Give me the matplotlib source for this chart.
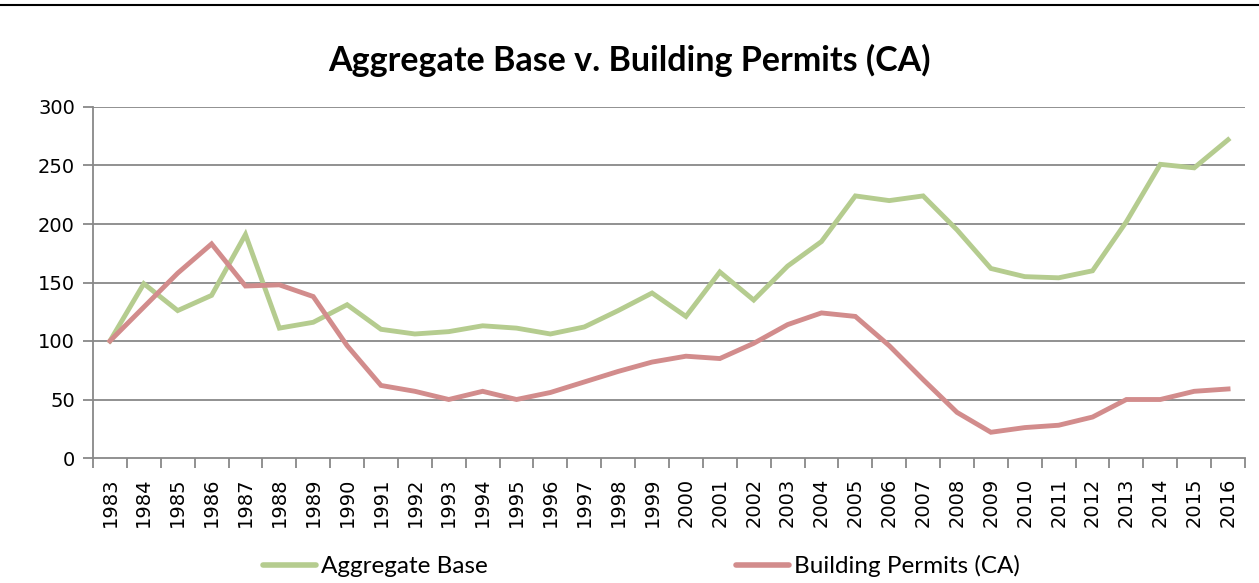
import matplotlib
matplotlib.use("Agg")
import matplotlib.pyplot as plt
from matplotlib.lines import Line2D

years = [str(y) for y in range(1983, 2017)]
aggregate_base = [100, 149, 126, 139, 191, 111, 116, 131, 110, 106, 108, 113, 111, 106, 112,
                  126, 141, 121, 159, 135, 164, 185, 224, 220, 224, 195, 162, 155, 154, 160,
                  202, 251, 248, 272]
building_permits = [100, 129, 158, 183, 147, 148, 138, 96, 62, 57, 50, 57, 50, 56, 65,
                    74, 82, 87, 85, 98, 114, 124, 121, 96, 67, 39, 22, 26, 28, 35,
                    50, 50, 57, 59]
yticks = [0, 50, 100, 150, 200, 250, 300]

GREEN = "#B5CC8F"
RED = "#D28C8C"
GRID = "#888888"

W, H = 1259, 583
fig = plt.figure(figsize=(W / 100, H / 100), dpi=100)
ax = fig.add_axes([93 / W, 1 - 458 / H, (1245 - 93) / W, (458 - 107) / H])

x = list(range(len(years)))
ax.plot(x, aggregate_base, color=GREEN, lw=3.5, solid_joinstyle="miter", label="Aggregate Base")
ax.plot(x, building_permits, color=RED, lw=3.5, solid_joinstyle="miter", label="Building Permits (CA)")

ax.set_xlim(-0.5, len(years) - 0.5)
ax.set_ylim(0, 300)
ax.set_yticks(yticks)
ax.set_yticklabels([str(v) for v in yticks], fontsize=14, family="DejaVu Sans")
ax.set_xticks(x)
ax.set_xticklabels(years, rotation=90, fontsize=14, family="DejaVu Sans")
ax.set_xticks([i - 0.5 for i in range(len(years) + 1)], minor=True)
ax.tick_params(axis="x", which="major", length=0, pad=14)
ax.tick_params(axis="x", which="minor", length=7, width=1.3, color=GRID, direction="out")
ax.tick_params(axis="y", length=7, width=1.3, color=GRID, direction="out", pad=6)

for v in yticks[1:]:
    ax.axhline(v, color=GRID, lw=1.3, zorder=0)
for s in ["top", "right"]:
    ax.spines[s].set_visible(False)
ax.spines["left"].set_color(GRID)
ax.spines["left"].set_linewidth(1.3)
ax.spines["bottom"].set_color(GRID)
ax.spines["bottom"].set_linewidth(1.3)

fig.text(0.5, 1 - 60 / H, "Aggregate Base v. Building Permits (CA)", ha="center", va="center",
         fontsize=24.5, fontweight="bold", family="Lato")

fig.add_artist(Line2D([0, 1], [1 - 5 / H, 1 - 5 / H], color="black", lw=1.5, transform=fig.transFigure))

leg = fig.legend(loc="center", bbox_to_anchor=(0.5095, 1 - 566 / H), ncol=2, frameon=False,
                 prop={"family": "Lato", "size": 17.5}, handlelength=2.2, handletextpad=0.2,
                 columnspacing=10.2)
for h in leg.get_lines():
    h.set_solid_capstyle("round")
    h.set_linewidth(4)

fig.savefig("out.png", dpi=100)
